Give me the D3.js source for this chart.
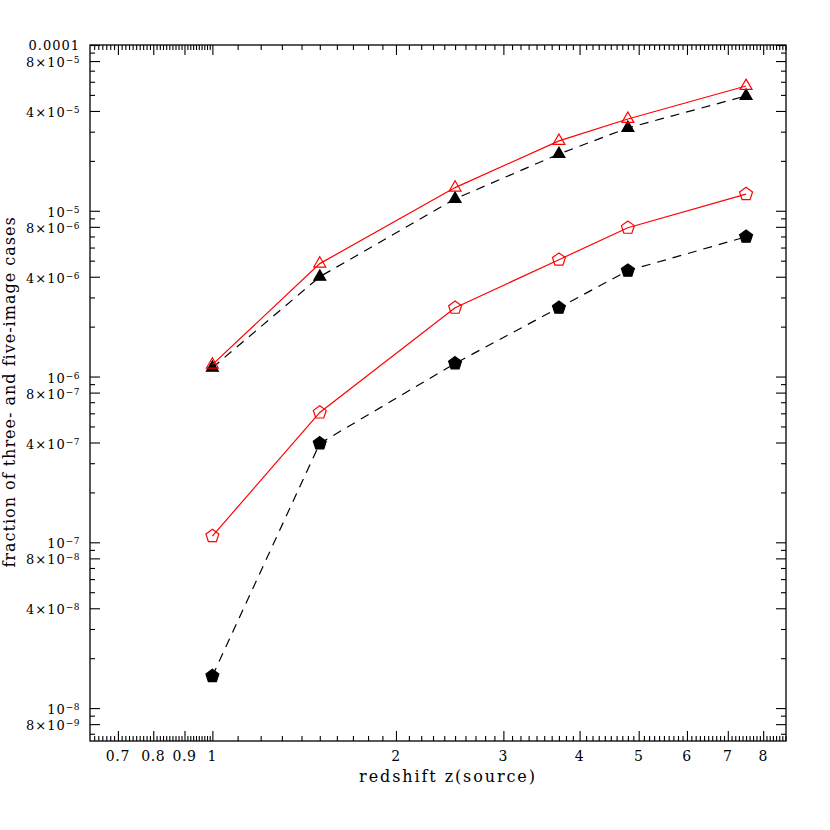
<!DOCTYPE html>
<html>
<head>
<meta charset="utf-8">
<script src="https://cdn.jsdelivr.net/npm/d3@7"></script>
<style>
  body { margin: 0; background: #fff; }
  text { font-family: "DejaVu Serif", serif; fill: #000; }
</style>
</head>
<body>
<div id="wrapper"></div>
<script>
// data
const redshift = [1, 1.5, 2.5, 3.7, 4.8, 7.5]
const threeOpen = [1.18e-6, 4.8e-6, 1.38e-5, 2.64e-5, 3.58e-5, 5.66e-5]
const threeFilled = [1.13e-6, 4.0e-6, 1.18e-5, 2.2e-5, 3.16e-5, 4.93e-5]
const fiveOpen = [1.09e-7, 6.07e-7, 2.6e-6, 5.07e-6, 7.9e-6, 1.26e-5]
const fiveFilled = [1.56e-8, 3.95e-7, 1.2e-6, 2.6e-6, 4.35e-6, 6.97e-6]

const xTickValues = [0.7, 0.8, 0.9, 1, 2, 3, 4, 5, 6, 7, 8]
const xTickLabels = ["0.7", "0.8", "0.9", "1", "2", "3", "4", "5", "6", "7", "8"]
const yTickValues = [1e-4, 8e-5, 4e-5, 1e-5, 8e-6, 4e-6, 1e-6, 8e-7, 4e-7,
  1e-7, 8e-8, 4e-8, 1e-8, 8e-9]
const yTickLabels = ["0.0001", "8×10^−5", "4×10^−5", "10^−5", "8×10^−6", "4×10^−6",
  "10^−6", "8×10^−7", "4×10^−7", "10^−7", "8×10^−8", "4×10^−8", "10^−8", "8×10^−9"]

function drawChart() {
  const dimensions = {
    width: 830,
    height: 830,
    margin: { top: 45, right: 44, bottom: 89, left: 90 }
  }
  dimensions.boundedWidth = dimensions.width - dimensions.margin.left - dimensions.margin.right
  dimensions.boundedHeight = dimensions.height - dimensions.margin.top - dimensions.margin.bottom

  const svg = d3.select("#wrapper").append("svg")
    .attr("width", dimensions.width)
    .attr("height", dimensions.height)

  const bounds = svg.append("g")
    .attr("transform", `translate(${dimensions.margin.left},${dimensions.margin.top})`)

  const xScale = d3.scaleLog()
    .domain([0.63, 8.72])
    .range([0, dimensions.boundedWidth])

  const yScale = d3.scaleLog()
    .domain([6.33e-9, 1e-4])
    .range([dimensions.boundedHeight, 0])

  // minor tick positions
  const xMinor = []
  for (let i = 64; i < 100; i++) xMinor.push(i / 100)
  for (let i = 11; i < 88; i++) xMinor.push(i / 10)
  const xMinorOnly = xMinor.filter(v => !xTickValues.some(t => Math.abs(t - v) < 1e-9))

  const yMinor = []
  for (let e = -9; e <= -5; e++) {
    for (let k = 1; k <= 9; k++) {
      const v = k * Math.pow(10, e)
      if (v >= 6.33e-9 && v <= 1e-4) yMinor.push(v)
    }
  }
  const yMinorOnly = yMinor.filter(v => !yTickValues.some(t => Math.abs(t - v) / t < 1e-6))

  const axisStyle = g => {
    g.select(".domain").remove()
    g.selectAll("line").attr("stroke", "#000").attr("stroke-width", 1.1)
    g.selectAll("text").remove()
  }

  // ticks, pointing inward on all four sides
  const majorLen = 10, minorLen = 5
  const addX = (gen, ty, values, len) => bounds.append("g")
    .attr("transform", `translate(0,${ty})`)
    .call(gen(xScale).tickValues(values).tickSize(len).tickSizeOuter(0))
    .call(axisStyle)
  addX(d3.axisBottom, dimensions.boundedHeight, xTickValues, -majorLen)
  addX(d3.axisBottom, dimensions.boundedHeight, xMinorOnly, -minorLen)
  addX(d3.axisTop, 0, xTickValues, -majorLen)
  addX(d3.axisTop, 0, xMinorOnly, -minorLen)

  const addY = (gen, tx, values, len) => bounds.append("g")
    .attr("transform", `translate(${tx},0)`)
    .call(gen(yScale).tickValues(values).tickSize(len).tickSizeOuter(0))
    .call(axisStyle)
  addY(d3.axisLeft, 0, yTickValues, -majorLen)
  addY(d3.axisLeft, 0, yMinorOnly, -minorLen)
  addY(d3.axisRight, dimensions.boundedWidth, yTickValues, -majorLen)
  addY(d3.axisRight, dimensions.boundedWidth, yMinorOnly, -minorLen)

  // frame
  bounds.append("rect")
    .attr("width", dimensions.boundedWidth)
    .attr("height", dimensions.boundedHeight)
    .attr("fill", "none")
    .attr("stroke", "#000")
    .attr("stroke-width", 1.3)

  // x tick labels
  bounds.append("g").selectAll("text")
    .data(xTickValues)
    .join("text")
    .attr("x", d => xScale(d))
    .attr("y", dimensions.boundedHeight + 20)
    .attr("text-anchor", "middle")
    .style("font-size", "14px")
    .style("letter-spacing", "0.6px")
    .text((d, i) => xTickLabels[i])

  // y tick labels with superscript exponents
  const yLabels = bounds.append("g").selectAll("text")
    .data(yTickValues)
    .join("text")
    .attr("x", -10)
    .attr("y", (d, i) => yScale(d) + (i === 0 ? 5 : 6))
    .attr("text-anchor", "end")
    .style("font-size", "13px")
    .style("letter-spacing", "1px")
  yLabels.each(function (d, i) {
    const parts = yTickLabels[i].split("^")
    const t = d3.select(this)
    t.append("tspan").text(parts[0])
    if (parts[1]) {
      t.append("tspan")
        .attr("dy", -4)
        .style("font-size", "9px")
        .style("letter-spacing", "0.5px")
        .text(parts[1])
    }
  })

  // axis titles
  svg.append("text")
    .attr("x", 448)
    .attr("y", 782)
    .attr("text-anchor", "middle")
    .style("font-size", "16px")
    .style("letter-spacing", "1.9px")
    .text("redshift z(source)")

  svg.append("text")
    .attr("transform", `translate(15,${392}) rotate(-90)`)
    .attr("text-anchor", "middle")
    .style("font-size", "16px")
    .style("letter-spacing", "1px")
    .text("fraction of three- and five-image cases")

  // custom marker shapes
  const polygon = (n) => ({
    draw(context, size) {
      const r = Math.sqrt(size)
      for (let i = 0; i < n; i++) {
        const a = -Math.PI / 2 + i * 2 * Math.PI / n
        const x = r * Math.cos(a), y = r * Math.sin(a)
        if (i === 0) context.moveTo(x, y)
        else context.lineTo(x, y)
      }
      context.closePath()
    }
  })
  const triangle = polygon(3)
  const pentagon = polygon(5)

  const lineGen = d3.line()
    .x(d => xScale(d[0]))
    .y(d => yScale(d[1]))

  const series = [
    { values: threeFilled, color: "#000", dash: "9,7", shape: triangle, r: 6.9, filled: true },
    { values: fiveFilled, color: "#000", dash: "9,7", shape: pentagon, r: 6.8, filled: true },
    { values: threeOpen, color: "#ff0000", dash: null, shape: triangle, r: 6.9, filled: false },
    { values: fiveOpen, color: "#ff0000", dash: null, shape: pentagon, r: 6.8, filled: false }
  ]

  series.forEach(s => {
    const pts = redshift.map((z, i) => [z, s.values[i]])
    bounds.append("path")
      .datum(pts)
      .attr("d", lineGen)
      .attr("fill", "none")
      .attr("stroke", s.color)
      .attr("stroke-width", 1.2)
      .attr("stroke-dasharray", s.dash)

    bounds.append("g").selectAll("path")
      .data(pts)
      .join("path")
      .attr("transform", d => `translate(${xScale(d[0])},${yScale(d[1])})`)
      .attr("d", d3.symbol().type(s.shape).size(s.r * s.r))
      .attr("fill", s.filled ? s.color : "#fff")
      .attr("fill-opacity", s.filled ? 1 : 0)
      .attr("stroke", s.color)
      .attr("stroke-width", 1.2)
  })
}
drawChart()
</script>
</body>
</html>
